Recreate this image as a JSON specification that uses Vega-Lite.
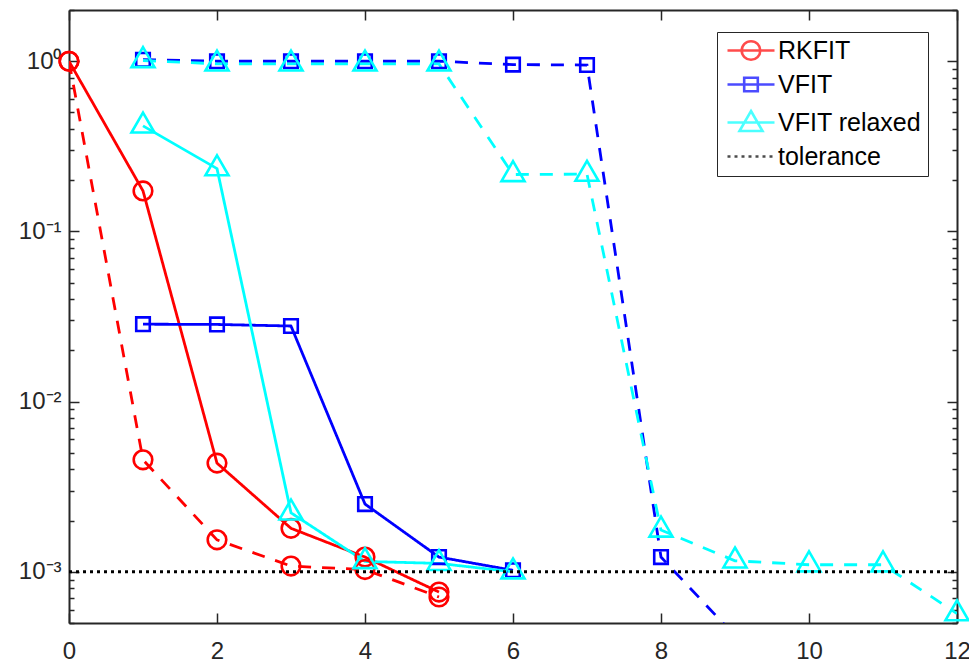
{
  "$schema": "https://vega.github.io/schema/vega-lite/v6.json",
  "width": 888,
  "height": 613,
  "autosize": {"type": "none"},
  "padding": {"left": 69, "top": 10, "right": 12, "bottom": 40},
  "background": "white",
  "data": {"values": [
    {"method": "RKFIT", "run": "1", "iter": 0, "err": 1.0},
    {"method": "RKFIT", "run": "1", "iter": 1, "err": 0.173},
    {"method": "RKFIT", "run": "1", "iter": 2, "err": 0.00435},
    {"method": "RKFIT", "run": "1", "iter": 3, "err": 0.0018},
    {"method": "RKFIT", "run": "1", "iter": 4, "err": 0.00122},
    {"method": "RKFIT", "run": "1", "iter": 5, "err": 0.00076},
    {"method": "RKFIT", "run": "2", "iter": 0, "err": 1.0},
    {"method": "RKFIT", "run": "2", "iter": 1, "err": 0.00455},
    {"method": "RKFIT", "run": "2", "iter": 2, "err": 0.00154},
    {"method": "RKFIT", "run": "2", "iter": 3, "err": 0.00108},
    {"method": "RKFIT", "run": "2", "iter": 4, "err": 0.00103},
    {"method": "RKFIT", "run": "2", "iter": 5, "err": 0.000711},
    {"method": "VFIT", "run": "1", "iter": 1, "err": 0.0285},
    {"method": "VFIT", "run": "1", "iter": 2, "err": 0.0284},
    {"method": "VFIT", "run": "1", "iter": 3, "err": 0.0278},
    {"method": "VFIT", "run": "1", "iter": 4, "err": 0.0025},
    {"method": "VFIT", "run": "1", "iter": 5, "err": 0.00122},
    {"method": "VFIT", "run": "1", "iter": 6, "err": 0.00102},
    {"method": "VFIT", "run": "2", "iter": 1, "err": 1.02},
    {"method": "VFIT", "run": "2", "iter": 2, "err": 1.0},
    {"method": "VFIT", "run": "2", "iter": 3, "err": 1.0},
    {"method": "VFIT", "run": "2", "iter": 4, "err": 1.0},
    {"method": "VFIT", "run": "2", "iter": 5, "err": 1.0},
    {"method": "VFIT", "run": "2", "iter": 6, "err": 0.955},
    {"method": "VFIT", "run": "2", "iter": 7, "err": 0.95},
    {"method": "VFIT", "run": "2", "iter": 8, "err": 0.00122},
    {"method": "VFIT", "run": "2", "iter": 9, "err": 0.00042},
    {"method": "VFIT relaxed", "run": "1", "iter": 1, "err": 0.417},
    {"method": "VFIT relaxed", "run": "1", "iter": 2, "err": 0.234},
    {"method": "VFIT relaxed", "run": "1", "iter": 3, "err": 0.00222},
    {"method": "VFIT relaxed", "run": "1", "iter": 4, "err": 0.00115},
    {"method": "VFIT relaxed", "run": "1", "iter": 5, "err": 0.00112},
    {"method": "VFIT relaxed", "run": "1", "iter": 6, "err": 0.001},
    {"method": "VFIT relaxed", "run": "2", "iter": 1, "err": 1.01},
    {"method": "VFIT relaxed", "run": "2", "iter": 2, "err": 0.965},
    {"method": "VFIT relaxed", "run": "2", "iter": 3, "err": 0.965},
    {"method": "VFIT relaxed", "run": "2", "iter": 4, "err": 0.965},
    {"method": "VFIT relaxed", "run": "2", "iter": 5, "err": 0.965},
    {"method": "VFIT relaxed", "run": "2", "iter": 6, "err": 0.216},
    {"method": "VFIT relaxed", "run": "2", "iter": 7, "err": 0.217},
    {"method": "VFIT relaxed", "run": "2", "iter": 8, "err": 0.00176},
    {"method": "VFIT relaxed", "run": "2", "iter": 9, "err": 0.00116},
    {"method": "VFIT relaxed", "run": "2", "iter": 10, "err": 0.0011},
    {"method": "VFIT relaxed", "run": "2", "iter": 11, "err": 0.0011},
    {"method": "VFIT relaxed", "run": "2", "iter": 12, "err": 0.000568},
    {"method": "tolerance", "run": "0", "iter": 0, "err": 0.001},
    {"method": "tolerance", "run": "0", "iter": 12, "err": 0.001}
  ]},
  "config": {
    "view": {"stroke": null},
    "axis": {
      "domainColor": "#262626",
      "domainWidth": 2,
      "tickColor": "#262626",
      "tickWidth": 1.5,
      "labelFont": "Liberation Sans",
      "labelFontSize": 24,
      "labelColor": "#262626",
      "grid": false
    }
  },
  "resolve": {
    "scale": {"color": "independent", "shape": "independent", "strokeDash": "independent"},
    "axis": {"x": "independent", "y": "independent"}
  },
  "layer": [
    {
      "transform": [{"filter": "datum.method != 'tolerance'"}],
      "mark": {"type": "line", "clip": true, "strokeWidth": 2.8},
      "encoding": {
        "x": {"field": "iter", "type": "quantitative", "title": null,
          "scale": {"domain": [0, 12], "nice": false, "zero": false},
          "axis": {"orient": "bottom", "values": [0, 2, 4, 6, 8, 10, 12], "tickSize": -10, "labelPadding": 26, "labelFlush": false, "labelOverlap": false}},
        "y": {"field": "err", "type": "quantitative", "title": null,
          "scale": {"type": "log", "domain": [0.0005, 2], "nice": false},
          "axis": {"orient": "left",
            "values": [0.0005, 0.0006, 0.0007, 0.0008, 0.0009, 0.001, 0.002, 0.003, 0.004, 0.005, 0.006, 0.007, 0.008, 0.009, 0.01, 0.02, 0.03, 0.04, 0.05, 0.06, 0.07, 0.08, 0.09, 0.1, 0.2, 0.3, 0.4, 0.5, 0.6, 0.7, 0.8, 0.9, 1, 2],
            "tickSize": {"condition": {"test": "abs(log(datum.value)/LN10 - round(log(datum.value)/LN10)) < 0.001", "value": -10}, "value": -5},
            "labelExpr": "abs(log(datum.value)/LN10 - round(log(datum.value)/LN10)) < 0.001 ? '10' + ['⁰','⁻¹','⁻²','⁻³','⁻⁴'][-round(log(datum.value)/LN10)] : ''",
            "labelPadding": 18, "labelOverlap": false, "labelFlush": false, "labelBaseline": "middle"}},
        "color": {"field": "method", "type": "nominal", "legend": null,
          "scale": {"domain": ["RKFIT", "VFIT", "VFIT relaxed", "tolerance"], "range": ["#ff0000", "#0000ff", "#00ffff", "#000000"]}},
        "strokeDash": {"field": "run", "type": "nominal", "legend": null,
          "scale": {"domain": ["1", "2"], "range": [[1, 0], [13, 11]]}}
      }
    },
    {
      "transform": [{"filter": "datum.method != 'tolerance' && datum.err >= 0.0005"}],
      "mark": {"type": "point", "filled": false, "strokeWidth": 2.6, "size": 345, "opacity": 1},
      "encoding": {
        "x": {"field": "iter", "type": "quantitative", "axis": null},
        "y": {"field": "err", "type": "quantitative", "axis": null},
        "color": {"field": "method", "type": "nominal", "legend": null,
          "scale": {"domain": ["RKFIT", "VFIT", "VFIT relaxed", "tolerance"], "range": ["#ff0000", "#0000ff", "#00ffff", "#000000"]}},
        "shape": {"field": "method", "type": "nominal", "legend": null,
          "scale": {"domain": ["RKFIT", "VFIT", "VFIT relaxed"], "range": ["circle", "M-0.73,-0.73H0.73V0.73H-0.73Z", "M0,-1.43L1.24,0.716H-1.24Z"]}}
      }
    },
    {
      "transform": [{"filter": "datum.method == 'tolerance'"}],
      "mark": {"type": "line", "color": "#000000", "strokeWidth": 2.8, "strokeDash": [3, 4]},
      "encoding": {
        "x": {"field": "iter", "type": "quantitative", "title": null,
          "axis": {"orient": "top", "values": [0, 2, 4, 6, 8, 10, 12], "tickSize": -10, "labels": false}},
        "y": {"field": "err", "type": "quantitative", "title": null,
          "axis": {"orient": "right",
            "values": [0.0005, 0.0006, 0.0007, 0.0008, 0.0009, 0.001, 0.002, 0.003, 0.004, 0.005, 0.006, 0.007, 0.008, 0.009, 0.01, 0.02, 0.03, 0.04, 0.05, 0.06, 0.07, 0.08, 0.09, 0.1, 0.2, 0.3, 0.4, 0.5, 0.6, 0.7, 0.8, 0.9, 1, 2],
            "tickSize": {"condition": {"test": "abs(log(datum.value)/LN10 - round(log(datum.value)/LN10)) < 0.001", "value": -10}, "value": -5},
            "labels": false}}
      }
    },
    {
      "transform": [{"filter": "false"}],
      "mark": {"type": "point", "filled": false},
      "encoding": {
        "x": {"field": "iter", "type": "quantitative", "axis": null},
        "y": {"field": "err", "type": "quantitative", "axis": null},
        "color": {"field": "method", "type": "nominal",
          "scale": {"domain": ["RKFIT", "VFIT", "VFIT relaxed", "tolerance"], "range": ["#ff0000", "#0000ff", "#00ffff", "#000000"]},
          "legend": {"orient": "none", "legendX": 648, "legendY": 22, "padding": 6, "strokeColor": "#262626", "fillColor": "#ffffff", "cornerRadius": 0, "title": null,
            "labelFont": "Liberation Sans", "labelFontSize": 25, "labelColor": "#000000", "symbolSize": 400, "symbolStrokeWidth": 2.6,
            "symbolOffset": 15.5, "labelOffset": 14.5, "rowPadding": 7, "symbolFillColor": "transparent",
            "encode": {"legend": {"update": {"strokeWidth": {"value": 1.5}}}, "symbols": {"update": {"opacity": {"value": 1}, "strokeJoin": {"value": "round"}}}}}},
        "shape": {"field": "method", "type": "nominal",
          "scale": {"domain": ["RKFIT", "VFIT", "VFIT relaxed", "tolerance"],
            "range": [
              "M-2.35,0H2.35M0.93,0A0.93,0.93,0,1,1,-0.93,0A0.93,0.93,0,1,1,0.93,0",
              "M-2.35,0H2.35M-0.68,-0.68H0.68V0.68H-0.68Z",
              "M-2.35,0H2.35M0,-1.15L1.15,0.85H-1.15Z",
              "M-2.35,0h0.3M-1.65,0h0.3M-0.95,0h0.3M-0.25,0h0.3M0.45,0h0.3M1.15,0h0.3M1.85,0h0.3"
            ]},
          "legend": {"orient": "none", "legendX": 648, "legendY": 22, "padding": 6, "strokeColor": "#262626", "fillColor": "#ffffff", "cornerRadius": 0, "title": null,
            "labelFont": "Liberation Sans", "labelFontSize": 25, "labelColor": "#000000", "symbolSize": 400, "symbolStrokeWidth": 2.6,
            "symbolOffset": 15.5, "labelOffset": 14.5, "rowPadding": 7, "symbolFillColor": "transparent",
            "encode": {"legend": {"update": {"strokeWidth": {"value": 1.5}}}, "symbols": {"update": {"opacity": {"value": 1}, "strokeJoin": {"value": "round"}}}}}}
      }
    }
  ]
}
